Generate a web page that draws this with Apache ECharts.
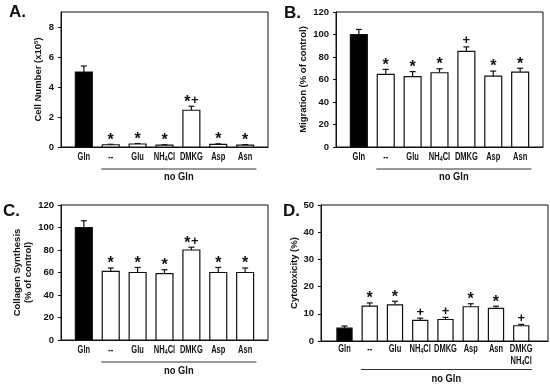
<!DOCTYPE html>
<html><head><meta charset="utf-8">
<script src="https://cdn.jsdelivr.net/npm/echarts@6/dist/echarts.min.js"></script>
<style>html,body{margin:0;padding:0;background:#fff}#c{width:550px;height:385px}</style>
</head><body><div id="c"></div>
<script>
// ---------------- data ----------------
const categoriesABC = ['Gln', '--', 'Glu', 'NH4Cl', 'DMKG', 'Asp', 'Asn'];
const categoriesD = ['Gln', '--', 'Glu', 'NH4Cl', 'DMKG', 'Asp', 'Asn', 'DMKG\nNH4Cl'];
const groupLabel = 'no Gln';

const cellNumber = [5.0, 0.15, 0.2, 0.12, 2.45, 0.18, 0.13];
const cellNumberErr = [0.4, 0.03, 0.03, 0.03, 0.27, 0.03, 0.03];
const cellNumberSig = ['', '*', '*', '*', '*+', '*', '*'];
const cellNumberTicks = [0, 2, 4, 6, 8];

const migration = [100, 64.5, 62.5, 66, 85, 63, 66.5];
const migrationErr = [4.5, 4.5, 4.5, 3.5, 4, 4.5, 3.5];
const migrationSig = ['', '*', '*', '*', '+', '*', '*'];
const migrationTicks = [0, 20, 40, 60, 80, 100, 120];

const collagen = [100, 61, 60, 59, 80, 60, 60];
const collagenErr = [6, 3, 4.5, 3.5, 2.5, 4.5, 4];
const collagenSig = ['', '*', '*', '*', '*+', '*', '*'];
const collagenTicks = [0, 20, 40, 60, 80, 100, 120];

const cytotoxicity = [4.7, 12.8, 13.3, 7.6, 7.9, 12.6, 12.0, 5.6];
const cytotoxicityErr = [0.8, 1.2, 1.3, 0.8, 0.8, 1.1, 0.8, 0.5];
const cytotoxicitySig = ['', '*', '*', '+', '+', '*', '*', '+'];
const cytotoxicityTicks = [0, 10, 20, 30, 40, 50];

// ---------------- styling ----------------
const FONT = "'Liberation Sans', Arial, Helvetica, sans-serif";
const INK = '#111';

const panels = [
  { letter: 'A.', letterPos: [9, 4], grid: { left: 61, top: 12, width: 207, height: 135 },
    cats: categoriesABC, vals: cellNumber, errs: cellNumberErr, sig: cellNumberSig, ticks: cellNumberTicks,
    ymax: 9, xmin: -0.85, xmax: 6.85, name: 'Cell Number (x10{sup|5})', nameGap: 17,
    barW: 0.63, labelOff: 4, lineOff: 22, textOff: 30 },
  { letter: 'B.', letterPos: [284, 5], grid: { left: 336, top: 12, width: 207, height: 135 },
    cats: categoriesABC, vals: migration, errs: migrationErr, sig: migrationSig, ticks: migrationTicks,
    ymax: 120, xmin: -0.85, xmax: 6.85, name: 'Migration (% of control)', nameGap: 27,
    barW: 0.63, labelOff: 4, lineOff: 22, textOff: 30 },
  { letter: 'C.', letterPos: [3, 203], grid: { left: 61, top: 205, width: 207, height: 135 },
    cats: categoriesABC, vals: collagen, errs: collagenErr, sig: collagenSig, ticks: collagenTicks,
    ymax: 120, xmin: -0.85, xmax: 6.85, name: 'Collagen Synthesis\n(% of control)', nameGap: 25,
    barW: 0.63, labelOff: 4, lineOff: 22, textOff: 31 },
  { letter: 'D.', letterPos: [283, 203], grid: { left: 321, top: 205, width: 227, height: 136 },
    cats: categoriesD, vals: cytotoxicity, errs: cytotoxicityErr, sig: cytotoxicitySig, ticks: cytotoxicityTicks,
    ymax: 50, xmin: -0.93, xmax: 8.06, name: 'Cytotoxicity (%)', nameGap: 19,
    barW: 0.6, labelOff: 2, lineOff: 28.5, textOff: 37.5 }
];

function richLabel(s) {
  return s.split('\n').map(line => line === 'NH4Cl' ? '{b|NH}{s|4}{b|Cl}' : '{b|' + line + '}').join('\n');
}
const catRich = {
  b: { fontSize: 10, fontWeight: 'bold', fontFamily: FONT, fill: INK, lineHeight: 12, verticalAlign: 'middle' },
  s: { fontSize: 7, fontWeight: 'bold', fontFamily: FONT, fill: INK, lineHeight: 6, verticalAlign: 'bottom' }
};
// per-glyph placement for significance marks
const SIG_STYLE = {
  '*': { size: 16, dy: -4, w: 7 },
  '+': { size: 13, dy: -6, w: 8 }
};

const option = { animation: false, backgroundColor: '#fff', grid: [], xAxis: [], yAxis: [], series: [], graphic: [] };

panels.forEach((p, k) => {
  option.grid.push(Object.assign({ show: true, borderColor: INK, borderWidth: 1, backgroundColor: 'transparent' }, p.grid));
  option.xAxis.push({
    type: 'value', gridIndex: k, min: p.xmin, max: p.xmax,
    axisLine: { show: true, onZero: false, lineStyle: { color: INK, width: 1 } },
    axisTick: { show: false }, axisLabel: { show: false }, splitLine: { show: false }
  });
  option.yAxis.push({
    type: 'value', gridIndex: k, min: 0, max: p.ymax,
    name: p.name, nameLocation: 'middle', nameRotate: 90, nameGap: p.nameGap,
    nameTextStyle: { fontFamily: FONT, fontWeight: 'bold', fontSize: 9.5, color: INK, lineHeight: 11,
      rich: { sup: { fontFamily: FONT, fontWeight: 'bold', fontSize: 6, color: INK, verticalAlign: 'top', lineHeight: 8 } } },
    axisLine: { show: true, onZero: false, lineStyle: { color: INK, width: 1 } },
    axisTick: { show: true, inside: false, length: 3, customValues: p.ticks, lineStyle: { color: INK } },
    axisLabel: { show: true, customValues: p.ticks, margin: 7, fontFamily: FONT, fontWeight: 'bold', fontSize: 9.5, color: INK },
    splitLine: { show: false }
  });
  const n = p.vals.length;
  option.series.push({
    type: 'custom', xAxisIndex: k, yAxisIndex: k, clip: false, silent: true,
    data: p.vals.map((v, i) => [i, v, p.errs[i]]),
    encode: { x: 0, y: 1 },
    renderItem: function (params, api) {
      const i = params.dataIndex;
      const x = api.value(0), v = api.value(1), e = api.value(2);
      const base = api.coord([x, 0]);
      const top = api.coord([x, v]);
      const et = api.coord([x, v + e]);
      const w = api.size([p.barW, 0])[0];
      const cap = 6;
      const ch = [];
      ch.push({ type: 'line', shape: { x1: base[0], y1: top[1], x2: base[0], y2: et[1] }, style: { stroke: INK, lineWidth: 1.2 } });
      ch.push({ type: 'line', shape: { x1: base[0] - cap / 2, y1: et[1], x2: base[0] + cap / 2, y2: et[1] }, style: { stroke: INK, lineWidth: 1.2 } });
      ch.push({ type: 'rect', shape: { x: base[0] - w / 2, y: top[1], width: w, height: base[1] - top[1] },
        style: { fill: i === 0 ? '#000' : '#fff', stroke: INK, lineWidth: 1.2 } });
      const marks = p.sig[i].split('');
      const totalW = marks.reduce((s, c) => s + SIG_STYLE[c].w, 0);
      let cx = base[0] - totalW / 2;
      marks.forEach(c => {
        const st = SIG_STYLE[c];
        ch.push({ type: 'text', style: { text: c, x: cx + st.w / 2, y: et[1] + st.dy, align: 'center', verticalAlign: 'middle',
          fontSize: st.size, fontWeight: 'bold', fontFamily: FONT, fill: INK } });
        cx += st.w;
      });
      ch.push({ type: 'text', x: base[0], y: base[1] + p.labelOff, scaleX: 0.75,
        style: { text: richLabel(p.cats[i]), x: 0, y: 0, align: 'center', verticalAlign: 'top',
          rich: catRich, fontSize: 10, fontWeight: 'bold', fontFamily: FONT, fill: INK, lineHeight: 12 } });
      return { type: 'group', children: ch };
    }
  });
  option.series.push({
    type: 'custom', xAxisIndex: k, yAxisIndex: k, clip: false, silent: true,
    data: [[1, n - 1]],
    encode: { x: [0, 1] },
    renderItem: function (params, api) {
      const a = api.coord([api.value(0) - 0.35, 0]);
      const b = api.coord([api.value(1) + 0.42, 0]);
      return { type: 'group', children: [
        { type: 'line', shape: { x1: a[0], y1: a[1] + p.lineOff, x2: b[0], y2: a[1] + p.lineOff }, style: { stroke: '#333', lineWidth: 1.2 } },
        { type: 'text', x: (a[0] + b[0]) / 2, y: a[1] + p.textOff, scaleX: 0.85,
          style: { text: groupLabel, x: 0, y: 0, align: 'center', verticalAlign: 'middle',
            fontSize: 11, fontWeight: 'bold', fontFamily: FONT, fill: INK } }
      ] };
    }
  });
  option.graphic.push({ type: 'text', left: p.letterPos[0], top: p.letterPos[1],
    style: { text: p.letter, fontSize: 17, fontWeight: 'bold', fontFamily: FONT, fill: INK } });
});

const chart = echarts.init(document.getElementById('c'), null, { renderer: 'canvas' });
chart.setOption(option);
</script>
</body></html>
